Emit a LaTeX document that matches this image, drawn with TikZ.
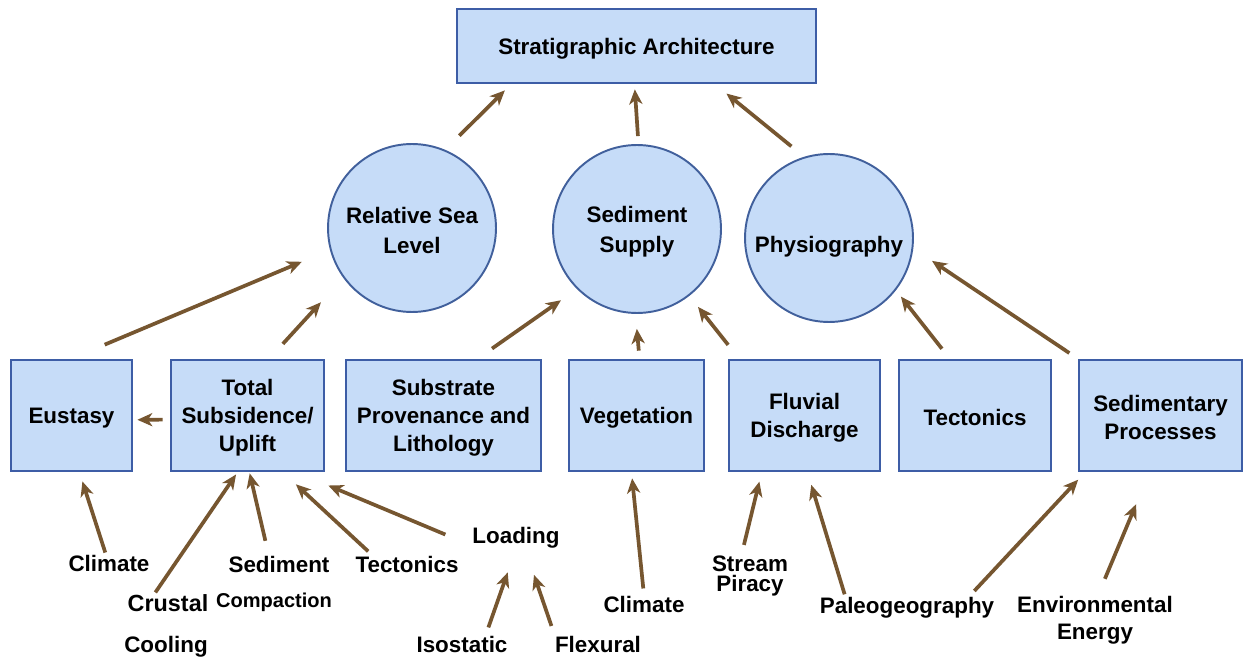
\documentclass[tikz,border=0pt]{standalone}
\usepackage{fontspec}
\setmainfont{Liberation Sans}
\usetikzlibrary{arrows.meta}
\definecolor{boxfill}{HTML}{C6DCF8}
\definecolor{boxline}{HTML}{3D5DA6}
\definecolor{ringline}{HTML}{41609C}
\definecolor{arrowbrown}{HTML}{765630}

\begin{document}
\begin{tikzpicture}[x=0.02cm,y=-0.02cm,
  font=\fontsize{12.75pt}{15.9pt}\selectfont\bfseries,
  % invisible strut that sets the height of the text block, for vertical centring
  txtlift/.style={execute at begin node={\rule{0pt}{#1}}},
  box/.style={draw=boxline, fill=boxfill, line width=1.6pt, align=center,
    inner sep=2pt, minimum height=2.22cm, txtlift=11.9pt},
  ring/.style={circle, draw=ringline, fill=boxfill, line width=1.1pt,
    minimum size=3.36cm, align=center, inner sep=0pt,
    font=\fontsize{12.75pt}{17pt}\selectfont\bfseries},
  lbl/.style={inner sep=0pt, align=center},
  arr/.style={draw=arrowbrown, line width=2.1pt,
    -{Stealth[length=8.5pt,width=7.5pt,inset=2.5pt]}},
]
\useasboundingbox (0,0) rectangle (1244,658);
\fill[white] (0,0) rectangle (1244,658);

% top level
\node[box, minimum width=7.18cm, minimum height=1.48cm] (top) at (636.5,46) {Stratigraphic Architecture};

% controlling factors
\node[ring, txtlift=29pt] (rsl) at (412,228) {Relative Sea\\Level};
\node[ring, txtlift=29pt] (ss)  at (637,229) {Sediment\\Supply};
\node[ring, txtlift=19.5pt] (phy) at (829,238) {Physiography};

% contributing processes
\node[box, minimum width=2.42cm] (eus) at (71.5,415.5) {Eustasy};
\node[box, minimum width=3.06cm, txtlift=43.2pt] (tot) at (247.5,415.5) {Total\\Subsidence/\\Uplift};
\node[box, minimum width=3.9cm, txtlift=43.2pt]  (sub) at (443.5,415.5) {Substrate\\Provenance and\\Lithology};
\node[box, minimum width=2.7cm]  (veg) at (636.5,415.5) {Vegetation};
\node[box, minimum width=3.02cm, txtlift=27.3pt] (flu) at (804.5,415.5) {Fluvial\\Discharge};
\node[box, minimum width=3.04cm] (tec) at (975,415.5) {Tectonics};
\node[box, minimum width=3.26cm, txtlift=27.3pt] (sed) at (1160.5,415.5) {Sedimentary\\Processes};

% underlying drivers
\node[lbl] (clima) at (109,563) {Climate};
\node[lbl, font=\fontsize{13.3pt}{16pt}\selectfont\bfseries] (crus) at (168,603) {Crustal};
\node[lbl] (cool) at (166,647) {Cooling};
\node[lbl] (sedc) at (279,564) {Sediment};
\node[lbl, font=\fontsize{11.4pt}{14pt}\selectfont\bfseries] (comp) at (274,602) {Compaction};
\node[lbl] (tect) at (407,564) {Tectonics};
\node[lbl] (load) at (516,538) {Loading};
\node[lbl] (iso) at (462,644) {Isostatic};
\node[lbl] (flex) at (598,644) {Flexural};
\node[lbl] (climb) at (644,604) {Climate};
\node[lbl, font=\fontsize{12.75pt}{11.3pt}\selectfont\bfseries] (strm) at (750,576) {Stream\\Piracy};
\node[lbl] (paleo) at (907,608) {Paleogeography};
\node[lbl, font=\fontsize{12.75pt}{15.3pt}\selectfont\bfseries] (env) at (1095,620.6) {Environmental\\Energy};

% factors -> architecture
\draw[arr, shorten <=0.40cm, shorten >=0.17cm] (rsl.67) -- (top.197);
\draw[arr, shorten <=0.16cm, shorten >=0.10cm] (ss.89) -- (top.267);
\draw[arr, shorten <=0.33cm, shorten >=0.29cm] (phy.107) -- (top.334);

% processes -> factors
\draw[arr, shorten <=0.72cm, shorten >=0.61cm] (eus.north) -- (rsl.195);
\draw[arr, shorten <=0.40cm, shorten >=0.66cm] (tot.69) -- (rsl.216);
\draw[arr, shorten <=0.35cm, shorten >=0.39cm] (sub.59) -- (ss.225);
\draw[arr, shorten <=0.16cm, shorten >=0.30cm] (veg.87) -- (ss.269);
\draw[arr, shorten <=0.35cm, shorten >=0.28cm] (flu.139) -- (ss.308);
\draw[arr, shorten <=0.25cm, shorten >=0.16cm] (tec.114) -- (phy.322);
\draw[arr, shorten <=0.20cm, shorten >=0.45cm] (sed.north west) -- (phy.353);
\draw[arr, shorten <=0.14cm, shorten >=0.08cm] (tot.183) -- (eus.356);

% drivers -> processes
\draw[arr, shorten <=0.04cm, shorten >=0.19cm] (clima.110) -- (eus.278);
\draw[arr, shorten <=0.04cm, shorten >=0.05cm] (crus.147) -- (tot.260);
\draw[arr, shorten <=0.30cm, shorten >=0.02cm] (sedc.140) -- (tot.272);
\draw[arr, shorten <=0.12cm, shorten >=0.35cm] (tect.166) -- (tot.302);
\draw[arr, shorten <=0.58cm, shorten >=0.68cm] (load.190) -- (tot.311);
\draw[arr, shorten <=0.17cm, shorten >=0.50cm] (iso.20) -- (load.south);
\draw[arr, shorten <=0.20cm, shorten >=0.55cm] (flex.north west) -- (load.310);
\draw[arr, shorten <=0.14cm, shorten >=0.12cm] (climb.north) -- (veg.265);
\draw[arr, shorten <=0.22cm, shorten >=0.19cm] (strm.113) -- (flu.233);
\draw[arr, shorten <=0.06cm, shorten >=0.26cm] (paleo.170) -- (flu.273);
\draw[arr, shorten <=0.17cm, shorten >=0.20cm] (paleo.10) -- (sed.217);
\draw[arr, shorten <=0.38cm, shorten >=0.69cm] (env.84) -- (sed.259);
\end{tikzpicture}
\end{document}
